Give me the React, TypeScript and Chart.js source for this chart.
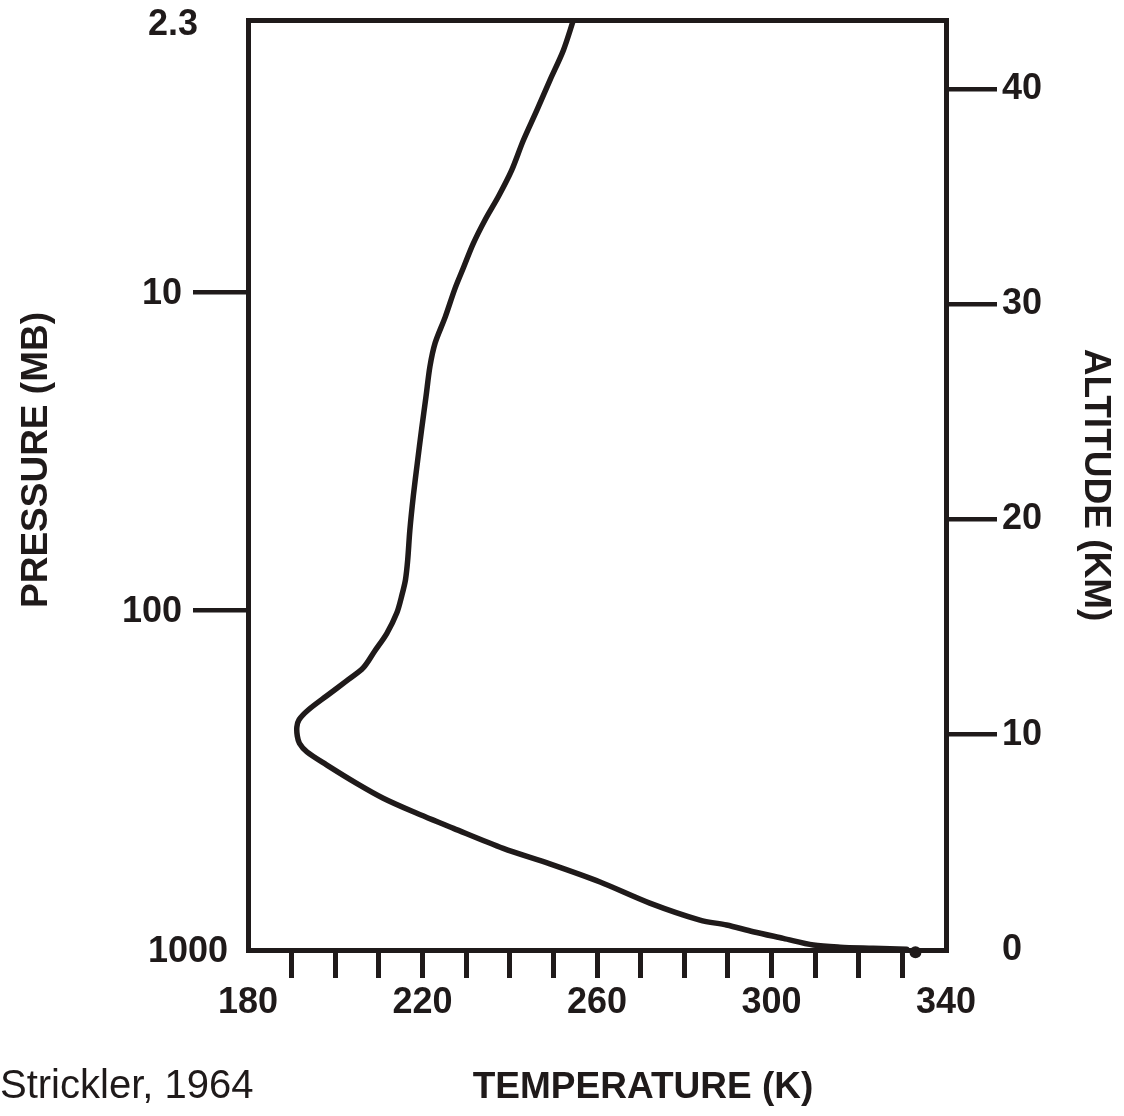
import React, { useEffect, useRef } from 'react';
import { Chart, registerables } from 'chart.js';

Chart.register(...registerables);

// Temperature profile (Strickler, 1964): temperature (K) vs altitude (km), top to bottom
const temperatureK = [
  254.6, 252.3, 249.2, 246.2, 243.1, 240.4, 237.4, 234.3, 231.6, 229.4,
  227.4, 225.2, 222.9, 221.7, 220.8, 219.8, 218.8, 217.9, 217.1, 216.6,
  216.1, 215.3, 214.1, 211.8, 209.1, 206.4, 202.6, 198.0, 193.8, 191.7,
  191.2, 191.3, 191.8, 193.5, 198.0, 204.9, 211.0, 217.9, 227.1, 238.5,
  249.2, 260.7, 272.1, 283.6, 289.7, 295.8, 302.7, 309.6, 315.7, 323.3,
  331.0,
];
const altitudeKm = [
  43.2, 41.8, 40.4, 39.0, 37.6, 36.2, 35.0, 33.9, 32.8, 31.7,
  30.7, 29.4, 28.2, 27.1, 25.7, 24.2, 22.6, 21.1, 19.5, 18.1,
  17.2, 16.5, 15.65, 14.7, 13.9, 13.1, 12.5, 11.8, 11.15, 10.7,
  10.36, 9.94, 9.6, 9.2, 8.6, 7.74, 7.05, 6.42, 5.65, 4.72,
  4.0, 3.16, 2.18, 1.39, 1.16, 0.85, 0.54, 0.23, 0.13, 0.08,
  0.03,
];
// Surface marker (dot)
const surfaceTempK = [333];
const surfaceAltKm = [-0.1];

// Axes
const tempMin = 180;
const tempMax = 340;
const tempTicks = [180, 190, 200, 210, 220, 230, 240, 250, 260, 270, 280, 290, 300, 310, 320, 330, 340];
const tempLabels = [180, 220, 260, 300, 340];
const altMin = 0;
const altMax = 43.2;
const altTicks = [0, 10, 20, 30, 40];
const pressureLabels = ['2.3', '10', '100', '1000'];
const pressureAltKm = [43.2, 30.56, 15.78, 0];

const INK = '#1f1a1a';
const FONT = '"Liberation Sans", Arial, Helvetica, sans-serif';

const textPlugin = {
  id: 'extraText',
  afterDraw(chart: any) {
    const ctx = chart.ctx;
    const { left, right, top, bottom } = chart.chartArea;
    const yp = chart.scales.yp;
    ctx.save();
    ctx.fillStyle = INK;
    ctx.textBaseline = 'middle';
    // pressure labels
    ctx.textAlign = 'right';
    ctx.font = `bold 36px ${FONT}`;
    pressureLabels.forEach((lab, i) => {
      const alt = pressureAltKm[i];
      const y = yp.getPixelForValue(alt);
      const atTop = alt >= yp.max;
      const atBottom = alt <= yp.min;
      let x = left - 66;
      if (atTop) x = left - 50;
      if (atBottom) x = left - 20;
      ctx.fillText(lab, x, Math.max(y + 2, top + 5));
    });
    // left title
    ctx.save();
    ctx.translate(37, (top + bottom) / 2 - 25);
    ctx.rotate(-Math.PI / 2);
    ctx.textAlign = 'center';
    ctx.font = `bold 37px ${FONT}`;
    ctx.fillText('PRESSURE (MB)', 0, 0);
    ctx.restore();
    // x title
    ctx.textAlign = 'center';
    ctx.font = `bold 37px ${FONT}`;
    ctx.fillText('TEMPERATURE (K)', (left + right) / 2 + 46, bottom + 138);
    // source
    ctx.textAlign = 'left';
    ctx.font = `40px ${FONT}`;
    ctx.fillText('Strickler, 1964', 0, bottom + 137);
    ctx.restore();
  },
};

export default function App() {
  const ref = useRef<HTMLCanvasElement | null>(null);

  useEffect(() => {
    if (!ref.current) return;
    const profile = temperatureK.map((t, i) => ({ x: t, y: altitudeKm[i] }));
    const surface = surfaceTempK.map((t, i) => ({ x: t, y: surfaceAltKm[i] }));
    const zeroPad = (s: any) => {
      s.paddingLeft = 0;
      s.paddingRight = 0;
      s.paddingTop = 0;
      s.paddingBottom = 0;
    };
    const chart = new Chart(ref.current, {
      type: 'line',
      data: {
        datasets: [
          {
            data: profile,
            borderColor: INK,
            borderWidth: 5.5,
            pointRadius: 0,
            tension: 0.3,
            fill: false,
            borderCapStyle: 'round',
            borderJoinStyle: 'round',
            xAxisID: 'x',
            yAxisID: 'y',
          },
          {
            data: surface,
            showLine: false,
            pointRadius: 6,
            pointBackgroundColor: INK,
            pointBorderColor: INK,
            borderWidth: 0,
            clip: false,
            xAxisID: 'x',
            yAxisID: 'y',
          },
        ],
      },
      plugins: [textPlugin],
      options: {
        responsive: false,
        animation: false,
        layout: { padding: 0 },
        font: { family: FONT },
        plugins: {
          legend: { display: false },
          tooltip: { enabled: false },
          title: { display: false },
        },
        scales: {
          x: {
            type: 'linear',
            position: 'bottom',
            min: tempMin,
            max: tempMax,
            afterBuildTicks: (s: any) => {
              s.ticks = tempTicks.map((v) => ({ value: v }));
            },
            afterFit: (s: any) => {
              s.height = 166;
              zeroPad(s);
            },
            ticks: {
              autoSkip: false,
              maxRotation: 0,
              padding: 3,
              color: INK,
              font: { family: FONT, size: 36, weight: 'bold' },
              callback: (v: any) => (tempLabels.includes(Number(v)) ? String(v) : ''),
            },
            grid: {
              drawOnChartArea: false,
              drawTicks: true,
              tickLength: 28,
              lineWidth: 5,
              tickWidth: 5,
              tickColor: (c: any) =>
                c.tick && (c.tick.value === tempMin || c.tick.value === tempMax) ? 'rgba(0,0,0,0)' : INK,
            },
            border: { display: true, color: INK, width: 5 },
          },
          xTop: {
            type: 'linear',
            position: 'top',
            min: tempMin,
            max: tempMax,
            afterFit: (s: any) => {
              s.height = 20;
              zeroPad(s);
            },
            ticks: { display: false },
            grid: { display: false, drawTicks: false },
            border: { display: true, color: INK, width: 5 },
          },
          y: {
            type: 'linear',
            position: 'right',
            min: altMin,
            max: altMax,
            afterBuildTicks: (s: any) => {
              s.ticks = altTicks.map((v) => ({ value: v }));
            },
            afterFit: (s: any) => {
              s.width = 178;
              zeroPad(s);
            },
            ticks: {
              autoSkip: false,
              padding: 5,
              color: INK,
              font: { family: FONT, size: 36, weight: 'bold' },
              callback: (v: any) => String(v),
            },
            grid: {
              drawOnChartArea: false,
              drawTicks: true,
              tickLength: 51,
              lineWidth: 4.5,
              tickWidth: 4.5,
              tickColor: (c: any) => (c.tick && c.tick.value === altMin ? 'rgba(0,0,0,0)' : INK),
            },
            border: { display: true, color: INK, width: 5 },
            title: {
              display: true,
              text: 'ALTITUDE (KM)',
              color: INK,
              font: { family: FONT, size: 37, weight: 'bold' },
              padding: { top: 7, bottom: 0 },
            },
          },
          yp: {
            type: 'linear',
            position: 'left',
            min: altMin,
            max: altMax,
            afterBuildTicks: (s: any) => {
              s.ticks = pressureAltKm.map((v) => ({ value: v }));
            },
            afterFit: (s: any) => {
              s.width = 248;
              zeroPad(s);
            },
            ticks: { display: false },
            grid: {
              drawOnChartArea: false,
              drawTicks: true,
              tickLength: 55,
              lineWidth: 4.5,
              tickWidth: 4.5,
              tickColor: (c: any) =>
                c.tick && (c.tick.value <= altMin || c.tick.value >= altMax) ? 'rgba(0,0,0,0)' : INK,
            },
            border: { display: true, color: INK, width: 5 },
          },
        },
      } as any,
    });
    return () => chart.destroy();
  }, []);

  return (
    <div style={{ position: 'absolute', left: 0, top: 0, width: 1124, height: 1116, background: '#fff' }}>
      <canvas ref={ref} width={1124} height={1116} />
    </div>
  );
}
